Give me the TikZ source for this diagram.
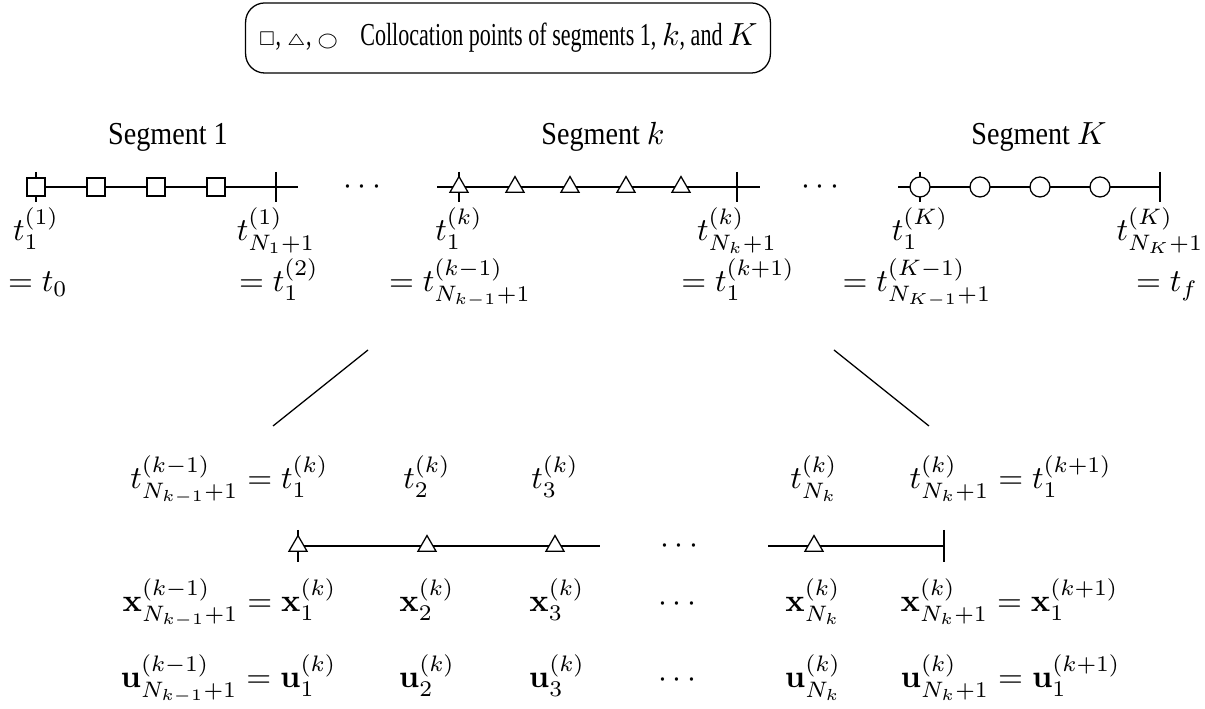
\documentclass[tikz,border=0pt]{standalone}
\usepackage[no-math]{fontspec}
\setmainfont{Liberation Serif}[FakeStretch=0.88]
\newfontfamily\legendfont{Liberation Serif}[FakeStretch=0.69]
\usepackage{amsmath, amssymb}
\usetikzlibrary{shapes.geometric, positioning}

\begin{document}
\begin{tikzpicture}[
        x=0.3125pt, y=-0.3125pt,
        sq/.style={draw, fill=white, rectangle, minimum size=5.6pt, inner sep=0pt},
        tri/.style={draw, fill=white, regular polygon, regular polygon sides=3, minimum size=6.5pt, inner sep=0pt},
        circ/.style={draw, fill=white, circle, minimum size=6.25pt, inner sep=0pt},
        lbl/.style={anchor=base, inner sep=0pt},
        legend/.style={draw, rounded corners=6pt, minimum width=159.4pt, minimum height=21.9pt, inner xsep=4pt, align=center, font=\legendfont}
    ]
        \useasboundingbox (0,0) rectangle (1205,709);
        % legend
        \node[legend] (leg) at (508,38) {$\scriptscriptstyle\square$,\,$\scriptscriptstyle\triangle$,\,$\scriptscriptstyle\bigcirc$\enspace\ Collocation points of segments 1, $k$, and $K$};
        \node[lbl] (seg1) at (168,145) {Segment 1};
        \node[lbl] (segk) at (603,145) {Segment $k$};
        \node[lbl] (segK) at (1039,145) {Segment $K$};
        % upper time axis
        \coordinate (a1) at (36,187);  \coordinate (b1) at (276,187);  \coordinate (e1) at (298,187);
        \coordinate (sk) at (437,187); \coordinate (ak) at (459,187);  \coordinate (bk) at (737,187);  \coordinate (ek) at (760,187);
        \coordinate (sK) at (898,187); \coordinate (aK) at (920,187);  \coordinate (bK) at (1160,187);
        \draw (a1) -- (e1);
        \draw (sk) -- (ek);
        \draw (sK) -- (bK);
        \foreach \p in {a1,b1,ak,bk,aK,bK}
            \draw ([yshift=4.7pt]\p) -- ([yshift=-4.7pt]\p);
        \foreach \x in {36,96,156,216}
            \node[sq] (sq\x) at (\x,187) {};
        \foreach \x in {459,515,570,626,681}
            \node[tri] (tr\x) at (\x,187) {};
        \foreach \x in {920,980,1040,1100}
            \node[circ] (ci\x) at (\x,187) {};
        \node[lbl] (dots1) at (365,195) {$\cdots$};
        \node[lbl] (dots2) at (823,195) {$\cdots$};
        % segment end points
        \node[lbl] (ta1) at (36,241)   {$t_1^{(1)}$};
        \node[lbl] (tb1) at (276,241)  {$t_{N_1+1}^{(1)}$};
        \node[lbl] (tak) at (459,241)  {$t_1^{(k)}$};
        \node[lbl] (tbk) at (737,241)  {$t_{N_k+1}^{(k)}$};
        \node[lbl] (taK) at (920,241)  {$t_1^{(K)}$};
        \node[lbl] (tbK) at (1160,241) {$t_{N_K+1}^{(K)}$};
        \node[lbl] (ea1) at (38,292)   {$=t_0$};
        \node[lbl] (eb1) at (279,292)  {$=t_1^{(2)}$};
        \node[lbl] (eak) at (460,292)  {$=t_{N_{k-1}+1}^{(k-1)}$};
        \node[lbl] (ebk) at (738,292)  {$=t_1^{(k+1)}$};
        \node[lbl] (eaK) at (917,292)  {$=t_{N_{K-1}+1}^{(K-1)}$};
        \node[lbl] (ebK) at (1167,292) {$=t_f$};
        % zoom lines
        \coordinate (zl1) at (368,350); \coordinate (zl2) at (273,426);
        \coordinate (zr1) at (834,350); \coordinate (zr2) at (929,426);
        \draw (zl1) -- (zl2);
        \draw (zr1) -- (zr2);
        % lower axis, segment k
        \coordinate (p1) at (298,546); \coordinate (q1) at (600,546);
        \coordinate (q2) at (768,546); \coordinate (pE) at (944,546);
        \draw (p1) -- (q1);
        \draw (q2) -- (pE);
        \foreach \p in {p1,pE}
            \draw ([yshift=5pt]\p) -- ([yshift=-5pt]\p);
        \foreach \x in {298,427,555,814}
            \node[tri] (lt\x) at (\x,546) {};
        \node[lbl] (dots3) at (682,554) {$\cdots$};
        % labels of the lower axis
        \node[lbl, anchor=base east] (lt1) at (329,489) {$t_{N_{k-1}+1}^{(k-1)} = t_1^{(k)}$};
        \node[lbl] (lt2) at (427,489) {$t_2^{(k)}$};
        \node[lbl] (lt3) at (555,489) {$t_3^{(k)}$};
        \node[lbl] (ltN) at (814,489) {$t_{N_k}^{(k)}$};
        \node[lbl, anchor=base west] (ltE) at (909,489) {$t_{N_k+1}^{(k)} = t_1^{(k+1)}$};
        \node[lbl, anchor=base east] (x1) at (337,612) {$\mathbf{x}_{N_{k-1}+1}^{(k-1)} = \mathbf{x}_1^{(k)}$};
        \node[lbl] (x2) at (427,612) {$\mathbf{x}_2^{(k)}$};
        \node[lbl] (x3) at (557,612) {$\mathbf{x}_3^{(k)}$};
        \node[lbl] (xd) at (680,612) {$\cdots$};
        \node[lbl] (xN) at (813,612) {$\mathbf{x}_{N_k}^{(k)}$};
        \node[lbl, anchor=base west] (xE) at (900,612) {$\mathbf{x}_{N_k+1}^{(k)} = \mathbf{x}_1^{(k+1)}$};
        \node[lbl, anchor=base east] (u1) at (337,688) {$\mathbf{u}_{N_{k-1}+1}^{(k-1)} = \mathbf{u}_1^{(k)}$};
        \node[lbl] (u2) at (427,688) {$\mathbf{u}_2^{(k)}$};
        \node[lbl] (u3) at (557,688) {$\mathbf{u}_3^{(k)}$};
        \node[lbl] (ud) at (680,688) {$\cdots$};
        \node[lbl] (uN) at (813,688) {$\mathbf{u}_{N_k}^{(k)}$};
        \node[lbl, anchor=base west] (uE) at (900,688) {$\mathbf{u}_{N_k+1}^{(k)} = \mathbf{u}_1^{(k+1)}$};
    \end{tikzpicture}
\end{document}
